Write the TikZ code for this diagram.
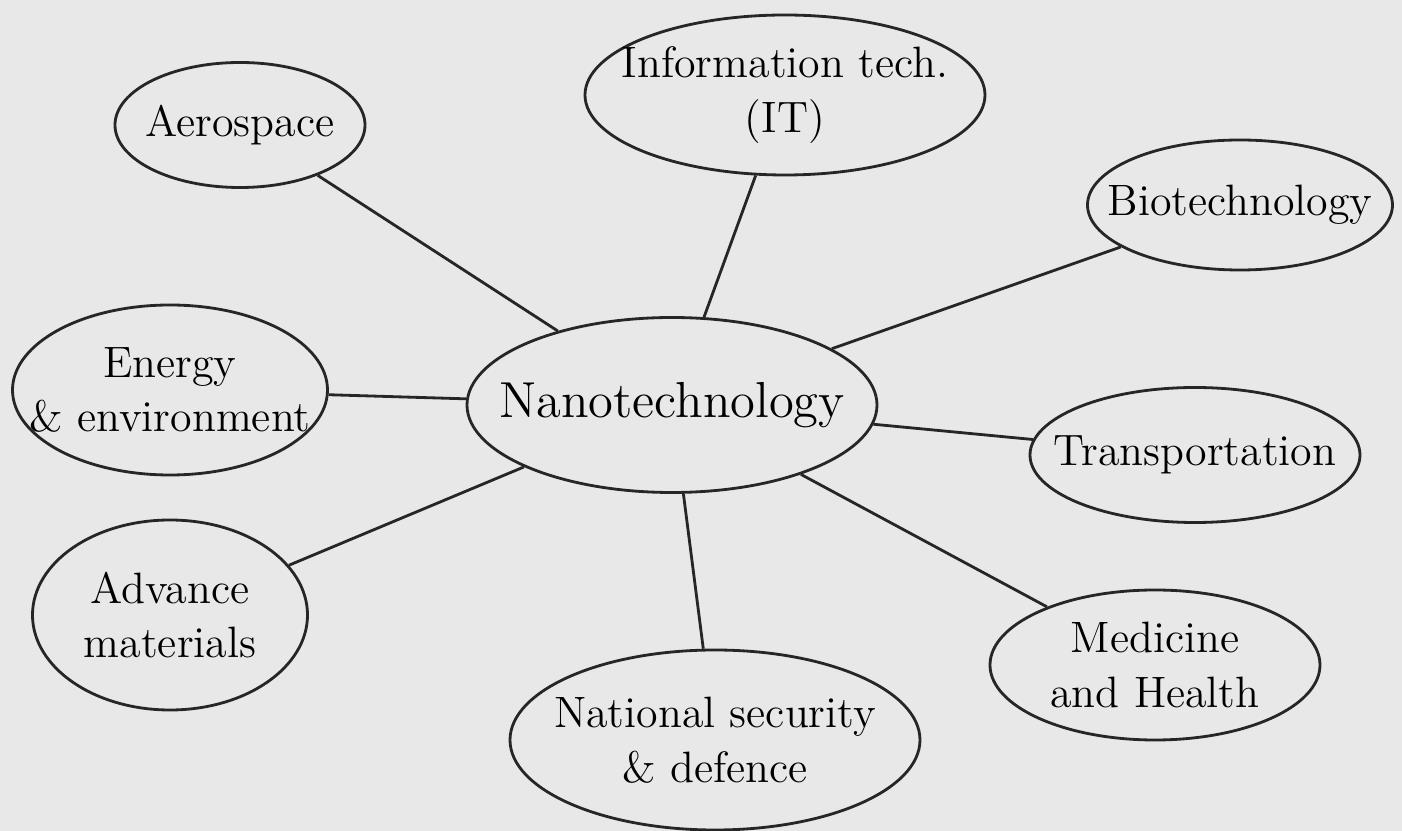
\documentclass[tikz,border=0pt]{standalone}
\usepackage{xcolor}
\usepackage{tikz}
\usetikzlibrary{shapes.geometric}

\begin{document}
\begin{tikzpicture}[
    topic/.style={ellipse, draw=black!85, thick, inner xsep=-0.35cm, inner ysep=-0.1cm,
                  align=center, font=\fontsize{12.5pt}{15.5pt}\selectfont},
    link/.style={thick, black!85}
]
\fill[gray!18] (0,0) rectangle (14.02,8.31);
\useasboundingbox (0,0) rectangle (14.02,8.31);
\node[topic, font=\Large, minimum width=4.1cm, minimum height=1.75cm] (nano) at (6.72,4.26) {Nanotechnology};
\node[topic, minimum width=2.5cm, minimum height=1.25cm] (aero) at (2.40,7.06) {Aerospace};
\node[topic, minimum width=4.0cm, minimum height=1.6cm] (it) at (7.85,7.36) {Information tech.\\(IT)};
\node[topic, minimum width=3.05cm, minimum height=1.3cm] (bio) at (12.40,6.26) {Biotechnology};
\node[topic, minimum width=3.15cm, minimum height=1.7cm] (energy) at (1.70,4.41) {Energy\\\& environment};
\node[topic, minimum width=3.3cm, minimum height=1.35cm] (trans) at (11.95,3.76) {Transportation};
\node[topic, minimum width=2.75cm, minimum height=1.9cm] (adv) at (1.70,2.16) {Advance\\materials};
\node[topic, minimum width=4.1cm, minimum height=1.8cm] (nat) at (7.15,0.91) {National security\\\& defence};
\node[topic, minimum width=3.3cm, minimum height=1.5cm] (med) at (11.55,1.66) {Medicine\\and Health};

\foreach \t in {aero, it, bio, energy, trans, adv, nat, med}
    \draw[link] (nano) -- (\t);
\end{tikzpicture}
\end{document}
